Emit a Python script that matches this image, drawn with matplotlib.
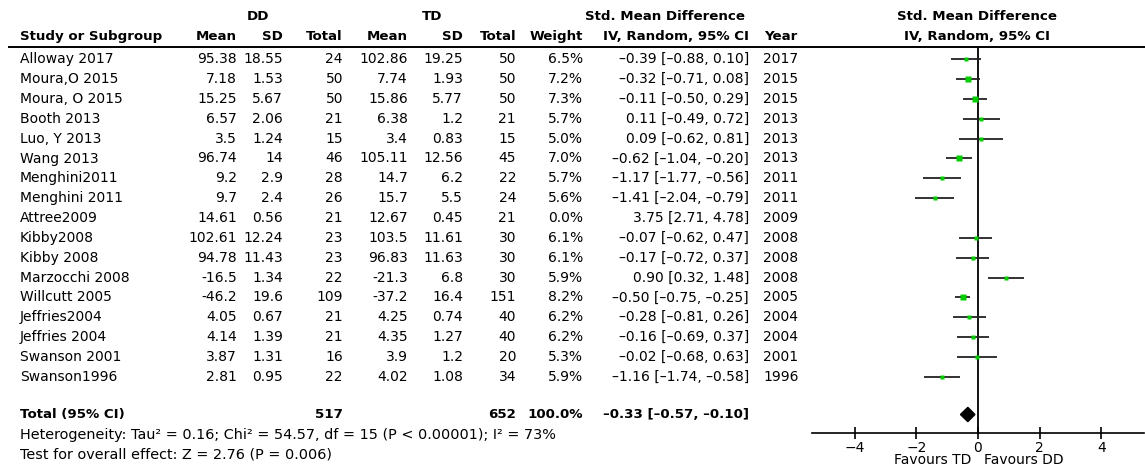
import matplotlib
matplotlib.use("Agg")
import matplotlib.pyplot as plt

# study rows
studies = ["Alloway 2017", "Moura,O 2015", "Moura, O 2015", "Booth 2013", "Luo, Y 2013",
           "Wang 2013", "Menghini2011", "Menghini 2011", "Attree2009", "Kibby2008",
           "Kibby 2008", "Marzocchi 2008", "Willcutt 2005", "Jeffries2004", "Jeffries 2004",
           "Swanson 2001", "Swanson1996"]
dd_mean = [95.38, 7.18, 15.25, 6.57, 3.5, 96.74, 9.2, 9.7, 14.61, 102.61, 94.78, -16.5, -46.2, 4.05, 4.14, 3.87, 2.81]
dd_sd = [18.55, 1.53, 5.67, 2.06, 1.24, 14, 2.9, 2.4, 0.56, 12.24, 11.43, 1.34, 19.6, 0.67, 1.39, 1.31, 0.95]
dd_n = [24, 50, 50, 21, 15, 46, 28, 26, 21, 23, 23, 22, 109, 21, 21, 16, 22]
td_mean = [102.86, 7.74, 15.86, 6.38, 3.4, 105.11, 14.7, 15.7, 12.67, 103.5, 96.83, -21.3, -37.2, 4.25, 4.35, 3.9, 4.02]
td_sd = [19.25, 1.93, 5.77, 1.2, 0.83, 12.56, 6.2, 5.5, 0.45, 11.61, 11.63, 6.8, 16.4, 0.74, 1.27, 1.2, 1.08]
td_n = [50, 50, 50, 21, 15, 45, 22, 24, 21, 30, 30, 30, 151, 40, 40, 20, 34]
weight = [6.5, 7.2, 7.3, 5.7, 5.0, 7.0, 5.7, 5.6, 0.0, 6.1, 6.1, 5.9, 8.2, 6.2, 6.2, 5.3, 5.9]
smd = [-0.39, -0.32, -0.11, 0.11, 0.09, -0.62, -1.17, -1.41, 3.75, -0.07, -0.17, 0.90, -0.50, -0.28, -0.16, -0.02, -1.16]
ci_lo = [-0.88, -0.71, -0.50, -0.49, -0.62, -1.04, -1.77, -2.04, 2.71, -0.62, -0.72, 0.32, -0.75, -0.81, -0.69, -0.68, -1.74]
ci_hi = [0.10, 0.08, 0.29, 0.72, 0.81, -0.20, -0.56, -0.79, 4.78, 0.47, 0.37, 1.48, -0.25, 0.26, 0.37, 0.63, -0.58]
years = [2017, 2015, 2015, 2013, 2013, 2013, 2011, 2011, 2009, 2008, 2008, 2008, 2005, 2004, 2004, 2001, 1996]

# pooled result
total_dd, total_td, total_weight = 517, 652, 100.0
pooled, pooled_lo, pooled_hi = -0.33, -0.57, -0.10
het_text = "Heterogeneity: Tau² = 0.16; Chi² = 54.57, df = 15 (P < 0.00001); I² = 73%"
test_text = "Test for overall effect: Z = 2.76 (P = 0.006)"
xticks = [-4, -2, 0, 2, 4]

W, H = 1145, 468
r0, dr = 59.3, 19.84          # pixel y of first row, row pitch
def row(px):
    return (px - r0) / dr

plt.rcParams['font.family'] = 'DejaVu Sans'
fig = plt.figure(figsize=(W / 100, H / 100), dpi=100)

# table axes: x in pixels, y in row units
ax = fig.add_axes([0, 0, 1, 1])
ax.set_xlim(0, W)
ax.set_ylim(row(H), row(0))
ax.axis("off")

fs = 10
dash = "\u2013"
def ci_str(e, l, h):
    return f"{e:.2f} [{l:.2f}, {h:.2f}]".replace("-", dash)

# column anchors (px)
c_study = 20
c_ddm, c_dds, c_ddn = 237, 283, 343
c_tdm, c_tds, c_tdn = 408, 463, 516
c_w, c_ci, c_year = 583, 749, 763

g_row, h_row = row(16.7), row(36.5)
bold = dict(fontsize=9.6, fontweight="bold", va="center")
ax.text(258, g_row, "DD", ha="center", **bold)
ax.text(432, g_row, "TD", ha="center", **bold)
ax.text(665, g_row, "Std. Mean Difference", ha="center", **bold)
ax.text(977, g_row, "Std. Mean Difference", ha="center", **bold)
ax.text(c_study, h_row, "Study or Subgroup", ha="left", **bold)
for x, s in [(c_ddm, "Mean"), (c_dds, "SD"), (c_ddn, "Total"), (c_tdm, "Mean"),
             (c_tds, "SD"), (c_tdn, "Total"), (c_w, "Weight"), (c_ci, "IV, Random, 95% CI")]:
    ax.text(x, h_row, s, ha="right", **bold)
ax.text(c_year + 1, h_row, "Year", ha="left", **bold)
ax.text(977, h_row, "IV, Random, 95% CI", ha="center", **bold)
ax.hlines(row(46.7), 8, W, color="black", lw=1.4)

reg = dict(fontsize=fs, va="center")
for i, name in enumerate(studies):
    ax.text(c_study, i, name, ha="left", **reg)
    ax.text(c_ddm, i, f"{dd_mean[i]:g}", ha="right", **reg)
    ax.text(c_dds, i, f"{dd_sd[i]:g}", ha="right", **reg)
    ax.text(c_ddn, i, f"{dd_n[i]}", ha="right", **reg)
    ax.text(c_tdm, i, f"{td_mean[i]:g}", ha="right", **reg)
    ax.text(c_tds, i, f"{td_sd[i]:g}", ha="right", **reg)
    ax.text(c_tdn, i, f"{td_n[i]}", ha="right", **reg)
    ax.text(c_w, i, f"{weight[i]:.1f}%", ha="right", **reg)
    ax.text(c_ci, i, ci_str(smd[i], ci_lo[i], ci_hi[i]), ha="right", **reg)
    ax.text(c_year, i, f"{years[i]}", ha="left", **reg)

t_row = row(414.5)
ax.text(c_study, t_row, "Total (95% CI)", ha="left", **bold)
ax.text(c_ddn, t_row, f"{total_dd}", ha="right", **bold)
ax.text(c_tdn, t_row, f"{total_td}", ha="right", **bold)
ax.text(c_w, t_row, f"{total_weight:.1f}%", ha="right", **bold)
ax.text(c_ci, t_row, ci_str(pooled, pooled_lo, pooled_hi), ha="right", **bold)
ax.text(c_study, row(435), het_text, ha="left", fontsize=10.4, va="center")
ax.text(c_study, row(455), test_text, ha="left", fontsize=10.4, va="center")

# forest axes
x0, x1, ytop, ybot = 812, 1144, 46.7, 433
fx = fig.add_axes([x0 / W, 1 - ybot / H, (x1 - x0) / W, (ybot - ytop) / H])
fx.set_xlim(-5.39, 5.39)
fx.set_ylim(row(ybot), row(ytop))
fx.patch.set_alpha(0)
for s in ["top", "left", "right"]:
    fx.spines[s].set_visible(False)
fx.spines["bottom"].set_linewidth(1.2)
fx.set_yticks([])
fx.set_xticks(xticks)
fx.tick_params(axis="x", direction="inout", length=9, width=1.2, labelsize=10, pad=1)
fx.axvline(0, color="black", lw=1.3)

for i in range(len(studies)):
    if weight[i] <= 0:
        continue
    fx.hlines(i, ci_lo[i], ci_hi[i], color="#222222", lw=1.3)
    fx.plot(smd[i], i, marker="s", ms=weight[i] * 0.55, color="#00cc00", mec="none")

dh = 0.36
fx.fill([pooled_lo, pooled, pooled_hi, pooled],
        [t_row, t_row - dh, t_row, t_row + dh], color="black")

fx.text(-0.2, row(459.5), "Favours TD", ha="right", va="center", fontsize=10,
        transform=fx.transData, clip_on=False)
fx.text(0.2, row(459.5), "Favours DD", ha="left", va="center", fontsize=10,
        transform=fx.transData, clip_on=False)

fig.savefig("out.png", dpi=100)
